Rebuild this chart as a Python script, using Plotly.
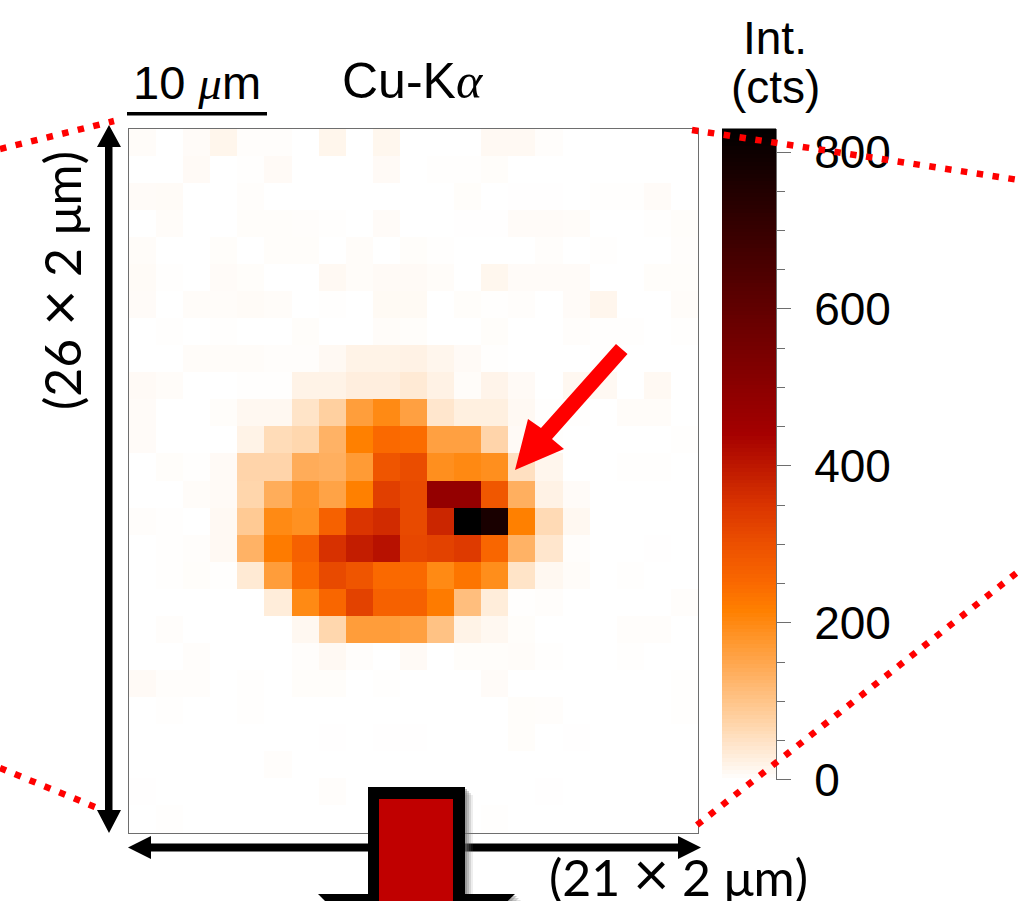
import plotly.graph_objects as go

W, H = 1019, 901

# Cu-K alpha intensity map, counts per pixel (21 columns, 26 rows, top row first)
row_00 = [5,0,6,16,3,3,0,16,0,14,0,0,0,10,10,3,0,0,0,0,0]
row_01 = [0,0,8,0,2,8,0,0,0,8,0,2,2,4,0,0,0,0,0,0,0]
row_02 = [6,7,0,0,3,0,0,0,0,0,0,0,4,0,1,1,0,2,2,6,0]
row_03 = [0,5,0,0,4,4,3,2,0,6,0,0,1,1,6,6,5,0,0,2,4]
row_04 = [5,0,0,4,0,4,4,0,5,0,4,2,0,0,0,3,0,2,0,0,3]
row_05 = [7,2,0,6,4,0,0,10,5,8,8,5,0,14,6,6,6,0,0,4,4]
row_06 = [6,0,5,5,7,5,0,2,0,9,9,0,4,2,3,0,6,15,0,0,5]
row_07 = [0,2,0,2,0,0,4,0,0,5,4,0,0,4,0,0,3,2,2,0,2]
row_08 = [0,0,5,5,5,3,3,10,20,20,22,15,8,2,0,0,0,2,0,0,0]
row_09 = [8,5,0,0,2,2,20,20,28,28,35,22,5,18,8,0,12,10,0,10,0]
row_10 = [6,0,0,4,12,12,46,80,165,198,160,42,26,26,10,2,2,0,5,5,0]
row_11 = [6,0,0,0,20,60,68,130,215,250,245,160,160,72,8,2,0,0,0,0,2]
row_12 = [0,4,2,8,72,72,140,135,170,290,305,190,200,190,52,15,0,0,2,2,0]
row_13 = [0,0,5,8,70,139,182,156,215,330,310,480,480,285,135,22,6,0,0,0,0]
row_14 = [3,2,0,10,90,198,187,265,350,365,310,375,830,770,215,62,12,0,0,0,0]
row_15 = [0,2,3,10,130,222,265,355,390,410,315,325,340,255,130,42,3,0,0,1,0]
row_16 = [0,2,4,2,36,166,250,310,290,250,250,198,232,192,46,12,5,0,2,0,0]
row_17 = [0,0,0,0,0,31,198,255,325,265,265,222,110,31,2,3,0,0,0,0,3]
row_18 = [0,3,0,0,0,0,12,68,166,166,160,104,20,12,4,0,0,0,3,3,0]
row_19 = [0,0,3,0,0,0,3,10,3,0,8,0,4,4,5,2,0,0,2,0,0]
row_20 = [8,3,3,0,2,0,4,4,0,2,0,0,0,6,0,0,0,0,0,0,2]
row_21 = [0,2,0,0,2,0,0,0,0,0,0,0,0,0,4,3,0,0,0,0,2]
row_22 = [0,0,0,0,0,0,0,1,0,1,1,0,0,0,4,0,1,0,0,0,0]
row_23 = [0,0,0,0,0,3,0,0,0,0,0,0,0,0,0,0,0,0,0,0,0]
row_24 = [1,0,0,0,0,0,0,3,0,0,0,0,0,0,0,1,0,0,0,0,0]
row_25 = [0,2,0,0,0,0,0,0,0,0,0,0,0,2,0,0,0,0,0,0,0]
intensity = [row_00,row_01,row_02,row_03,row_04,row_05,row_06,row_07,row_08,row_09,row_10,row_11,row_12,
             row_13,row_14,row_15,row_16,row_17,row_18,row_19,row_20,row_21,row_22,row_23,row_24,row_25]

colorbar_levels = list(range(0, 835, 5))
colorbar_ticks = [0, 200, 400, 600, 800]
z_max = 830
heat_scale = [[0, "rgb(255,255,255)"], [0.259, "rgb(255,128,0)"], [0.301, "rgb(250,105,0)"],
              [0.361, "rgb(236,80,0)"], [0.422, "rgb(218,52,0)"],
              [0.53, "rgb(165,0,0)"], [1, "rgb(0,0,0)"]]

SANS = "Liberation Sans"
GREY = "#6e6e6e"
SERIF_ITALIC = "font-family:'Liberation Serif';font-style:italic"
BIG_TIMES = '<span style="font-size:62px">×</span>'


def fx(x):
    return x / W


def fy(y):
    return 1 - y / H


def poly(points):
    return "M " + " L ".join(f"{fx(x):.5f},{fy(y):.5f}" for x, y in points) + " Z"


def polygon(points, fill, opacity=1):
    return dict(type="path", xref="paper", yref="paper", path=poly(points), fillcolor=fill,
                line=dict(width=0), opacity=opacity, layer="above")


def dotted(x0, y0, x1, y1):
    return dict(type="line", xref="paper", yref="paper", x0=fx(x0), y0=fy(y0), x1=fx(x1), y1=fy(y1),
                line=dict(color="#ff0000", width=6.5, dash="6.5px,9.5px"), layer="above")


def text(x, y, s, size, family=SANS, angle=0):
    return dict(xref="paper", yref="paper", x=fx(x), y=fy(y), text=s, showarrow=False, textangle=angle,
                font=dict(family=family, size=size, color="black"), xanchor="center", yanchor="middle")


fig = go.Figure()
fig.add_trace(go.Heatmap(z=intensity, zmin=0, zmax=z_max, colorscale=heat_scale, showscale=False,
                         xaxis="x", yaxis="y"))
fig.add_trace(go.Heatmap(z=[[v] for v in colorbar_levels], y=colorbar_levels, x=[0], zmin=0, zmax=z_max,
                         colorscale=heat_scale, showscale=False, xaxis="x2", yaxis="y2"))

block_outer = [(368, 787), (465, 787), (465, 894), (515, 894), (416, 990), (318, 894), (368, 894)]
block_inner = [(379, 799), (453, 799), (453, 920), (379, 920)]
shadow_layers = [
    polygon([(x + d, y + d) for x, y in block_outer], "#707070", a)
    for d, a in [(8, 0.12), (6, 0.2), (4, 0.3), (2, 0.4)]
]

shapes = [
    # vertical double arrow
    polygon([(109, 125), (121, 147), (112.5, 147), (112.5, 810), (121, 810), (109, 833), (97, 810),
             (105, 810), (105, 147), (97, 147)], "black"),
    # horizontal double arrow
    polygon([(128, 847.5), (151, 836), (151, 843.5), (678, 843.5), (678, 836), (701, 847.5), (678, 859),
             (678, 851.5), (151, 851.5), (151, 859)], "black"),
    # field-of-view guide lines
    dotted(0, 149, 114, 121),
    dotted(0, 768, 100, 809),
    dotted(692, 130, 1019, 180),
    dotted(697, 825, 1019, 571),
    # scale bar
    polygon([(127, 112), (267, 112), (267, 115.5), (127, 115.5)], "black"),
    # red pointer arrow
    polygon([(616, 344), (627.5, 354), (552, 439), (564, 449), (515, 470), (528, 419), (541, 428)], "#ff0000"),
    # beam block arrow
    *shadow_layers,
    polygon(block_outer, "black"),
    polygon(block_inner, "#c00000"),
]

annotations = [
    text(197, 83, f'10 <span style="{SERIF_ITALIC}">μ</span>m', 47),
    text(413, 81, f'Cu-K<span style="{SERIF_ITALIC}">α</span>', 50),
    text(775, 38, "Int.", 46),
    text(775, 87, "(cts)", 46),
    text(57, 281, f"(26 {BIG_TIMES} 2 μm)", 50, "Lato", -90),
    text(678, 872, f"(21 {BIG_TIMES} 2 μm)", 50, "Lato"),
]

axis_hidden = dict(showticklabels=False, ticks="", showgrid=False, zeroline=False)
fig.update_layout(
    width=W, height=H, autosize=False, margin=dict(l=0, r=0, t=0, b=0, autoexpand=False),
    paper_bgcolor="white", plot_bgcolor="white", showlegend=False,
    xaxis=dict(domain=[fx(129), fx(698)], range=[-0.5, 20.5], showline=True, mirror=True,
               linecolor=GREY, linewidth=1, **axis_hidden),
    yaxis=dict(domain=[fy(832.5), fy(128.5)], range=[25.5, -0.5], showline=True, mirror=True,
               linecolor=GREY, linewidth=1, **axis_hidden),
    xaxis2=dict(domain=[fx(722), fx(776)], range=[-0.5, 0.5], anchor="y2", showline=False, **axis_hidden),
    yaxis2=dict(domain=[fy(779.7), fy(128.5)], range=[0, z_max], anchor="x2", side="right",
                tickvals=colorbar_ticks, ticks="outside", ticklen=14, tickwidth=1, tickcolor=GREY,
                showline=True, linecolor=GREY, linewidth=1, showgrid=False, zeroline=False,
                ticklabelstandoff=14, tickfont=dict(family=SANS, size=46, color="black"),
                minor=dict(tickvals=[v for v in range(50, 800, 50)], ticks="outside", ticklen=8,
                           tickwidth=1, tickcolor=GREY, showgrid=False)),
    shapes=shapes, annotations=annotations,
)

fig.write_html("out.html", config={"displayModeBar": False},
               post_script="document.body.style.margin='0';document.documentElement.style.overflow='hidden';")
